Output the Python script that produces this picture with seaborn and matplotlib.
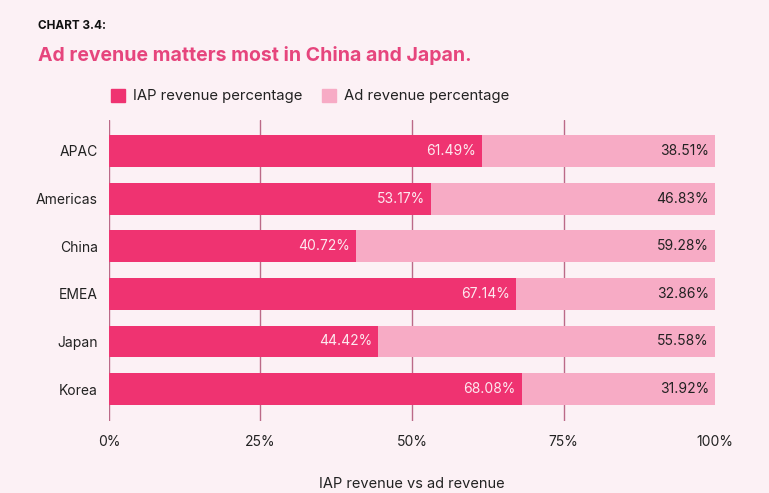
import pandas as pd
import numpy as np
import matplotlib
matplotlib.use('Agg')
import matplotlib.pyplot as plt
import seaborn as sns
from matplotlib.patches import Patch

regions = ['APAC', 'Americas', 'China', 'EMEA', 'Japan', 'Korea']
iap_pct = [61.49, 53.17, 40.72, 67.14, 44.42, 68.08]
ad_pct = [38.51, 46.83, 59.28, 32.86, 55.58, 31.92]
x_ticks = [0, 25, 50, 75, 100]
x_ticklabels = ['0%', '25%', '50%', '75%', '100%']

iap_color = '#ef3371'
ad_color = '#f7abc5'
bg = '#fcf1f5'
grid_color = '#bb6a88'
text_color = '#222222'

sns.set_theme(style='white')
plt.rcParams['font.family'] = ['Inter', 'DejaVu Sans']

df = pd.DataFrame({'region': regions, 'iap': iap_pct, 'ad': ad_pct})
df['total'] = df['iap'] + df['ad']

fig = plt.figure(figsize=(7.69, 4.93), dpi=100, facecolor=bg)
ax = fig.add_axes([0.1417, 0.146, 0.7881, 0.6106])
ax.set_facecolor(bg)

# stacked bars: total (ad) behind, iap in front
sns.barplot(data=df, x='total', y='region', color=ad_color, width=0.67,
            saturation=1, linewidth=0, ax=ax, zorder=3)
sns.barplot(data=df, x='iap', y='region', color=iap_color, width=0.67,
            saturation=1, linewidth=0, ax=ax, zorder=4)

for i, row in df.iterrows():
    ax.text(row['iap'] - 1.0, i, f"{row['iap']:.2f}%", ha='right', va='center',
            color='#fde8ef', fontsize=10, zorder=5)
    ax.text(row['total'] - 1.0, i, f"{row['ad']:.2f}%", ha='right', va='center',
            color=text_color, fontsize=10, zorder=5)

ax.set_xlim(0, 100)
ax.set_ylim(5.67, -0.65)
ax.set_xticks(x_ticks)
ax.set_xticklabels(x_ticklabels)
for t in x_ticks[:-1]:
    ax.axvline(t, color=grid_color, lw=1, zorder=1)
for s in ax.spines.values():
    s.set_visible(False)
ax.tick_params(axis='x', length=0, pad=10, labelsize=10, labelcolor=text_color)
ax.tick_params(axis='y', length=0, pad=8, labelsize=10, labelcolor=text_color)
ax.set_ylabel('')
ax.set_xlabel('IAP revenue vs ad revenue', fontsize=10.5, color=text_color, labelpad=20)

handles = [Patch(color=iap_color, label='IAP revenue percentage'),
           Patch(color=ad_color, label='Ad revenue percentage')]
fig.legend(handles=handles, loc='center left', bbox_to_anchor=(0.127, 0.805),
           ncol=2, frameon=False, fontsize=10.7, handlelength=0.95, handleheight=0.95,
           handletextpad=0.55, columnspacing=1.3, labelcolor=text_color)

fig.text(0.049, 0.948, 'CHART 3.4:', fontsize=8.5, fontweight='bold', color='#111111',
         va='center')
fig.text(0.049, 0.888, 'Ad revenue matters most in China and Japan.', fontsize=14,
         fontweight='bold', color='#e6457d', va='center')

fig.savefig('out.png', dpi=100, facecolor=bg)
